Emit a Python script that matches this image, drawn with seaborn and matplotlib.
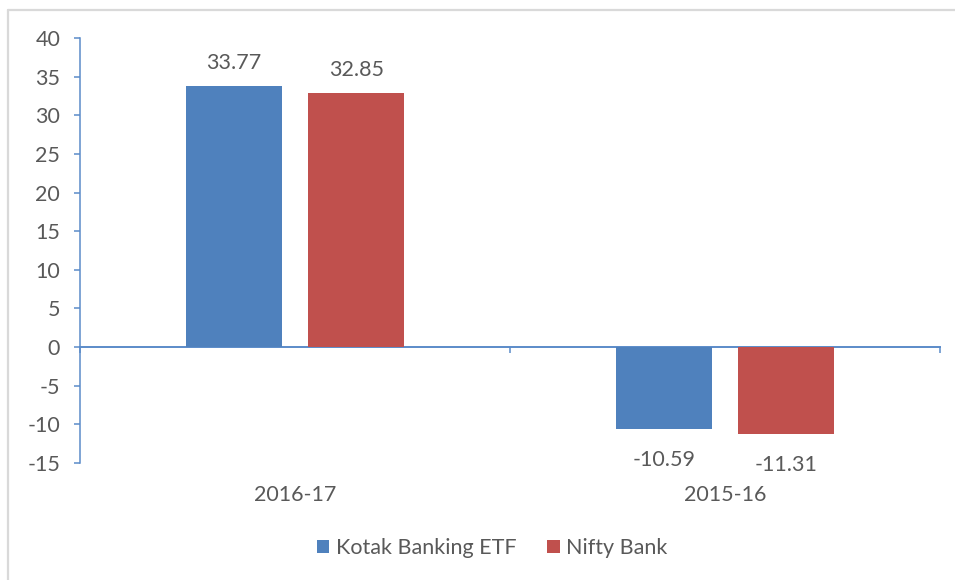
import matplotlib
matplotlib.use("Agg")
import matplotlib.pyplot as plt
from matplotlib.lines import Line2D
import pandas as pd
import seaborn as sns

# data
periods = ["2016-17", "2015-16"]
kotak = [33.77, -10.59]
nifty = [32.85, -11.31]
series_names = ["Kotak Banking ETF", "Nifty Bank"]
y_ticks = list(range(-15, 45, 5))

colours = ["#4F81BD", "#C0504D"]
axis_col = "#5B8BC9"
text_col = "#595959"
fsize = 15.5

df = pd.DataFrame({
    "period": periods * 2,
    "value": kotak + nifty,
    "series": [series_names[0]] * 2 + [series_names[1]] * 2,
})

sns.set_style("white")
plt.rcParams["font.family"] = ["Lato", "DejaVu Sans"]
plt.rcParams["axes.unicode_minus"] = False

fig = plt.figure(figsize=(9.55, 5.8), dpi=100)
ax = fig.add_axes([80 / 955, 1 - 463 / 580, 860 / 955, 425 / 580])

sns.barplot(data=df, x="period", y="value", hue="series", palette=colours,
            width=0.57, gap=0.22, saturation=1, linewidth=0, ax=ax, legend=True)

ax.set_xlim(-0.5, 1.5)
ax.set_ylim(-15, 40)
ax.set_yticks(y_ticks)
ax.set_xlabel("")
ax.set_ylabel("")

for s in ["top", "right", "bottom"]:
    ax.spines[s].set_visible(False)
ax.spines["left"].set_color(axis_col)
ax.spines["left"].set_linewidth(1.1)
ax.tick_params(axis="y", length=4.3, width=1.1, color=axis_col, pad=10,
               labelsize=fsize, labelcolor=text_col, left=True)
ax.tick_params(axis="x", length=0, pad=16, labelsize=fsize, labelcolor=text_col)

# category axis sitting on zero
zero_at = (0 - y_ticks[0]) / (40 - y_ticks[0])
sec = ax.secondary_xaxis(zero_at)
sec.set_xticks([-0.5, 0.5, 1.5])
sec.set_xticklabels([])
sec.tick_params(axis="x", length=4.3, width=1.1, color=axis_col, direction="out")
for s in sec.spines.values():
    s.set_visible(False)
sec.spines["bottom"].set_visible(True)
sec.spines["bottom"].set_color(axis_col)
sec.spines["bottom"].set_linewidth(1.4)

# value labels
for cont in ax.containers:
    for bar in cont:
        h = bar.get_height()
        xc = bar.get_x() + bar.get_width() / 2
        if h >= 0:
            ax.annotate(f"{h:.2f}", (xc, h), xytext=(0, 9.5), textcoords="offset points",
                        ha="center", va="bottom", fontsize=fsize, color=text_col)
        else:
            ax.annotate(f"{h:.2f}", (xc, h), xytext=(0, -15), textcoords="offset points",
                        ha="center", va="top", fontsize=fsize, color=text_col)

handles, labels = ax.get_legend_handles_labels()
ax.get_legend().remove()
fig.legend(handles, labels, loc="center", bbox_to_anchor=(492 / 955, 1 - 548 / 580),
           ncol=2, frameon=False, fontsize=fsize, labelcolor=text_col,
           handlelength=0.6, handleheight=0.6, handletextpad=0.3, columnspacing=1.4)

# light frame at left and top edges
fig.add_artist(Line2D([8 / 955, 8 / 955], [0, 1 - 10 / 580], color="#D9D9D9", lw=1.6))
fig.add_artist(Line2D([8 / 955, 1], [1 - 10 / 580, 1 - 10 / 580], color="#D9D9D9", lw=1.6))

fig.savefig("out.png", dpi=100)
